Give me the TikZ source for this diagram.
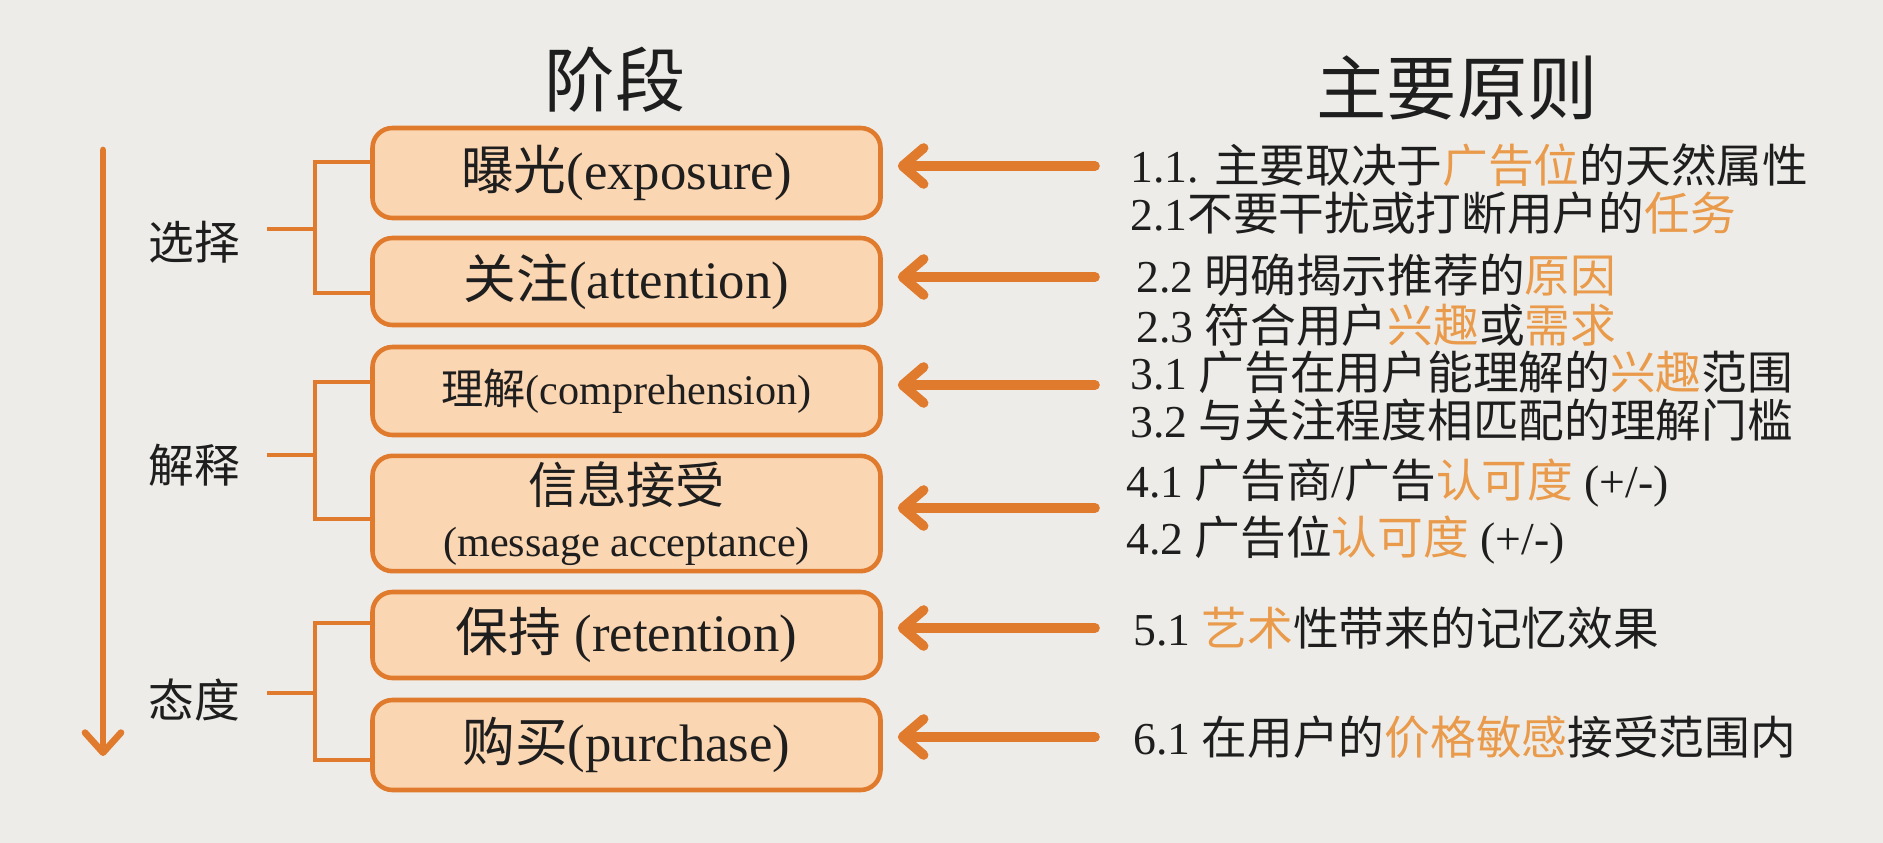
\documentclass[tikz,border=0pt]{standalone}
\usepackage{fontspec}
\setmainfont{Liberation Serif}
\newfontfamily\cjk{Noto Sans CJK SC}
\usetikzlibrary{arrows.meta}

\definecolor{paper}{HTML}{EDECE8}
\definecolor{edge}{HTML}{E07A2C}
\definecolor{boxfill}{HTML}{FBD6B2}
\definecolor{hilite}{HTML}{E99A4A}
\definecolor{ink}{HTML}{1E1E1E}

\newcommand{\zh}[1]{{\cjk #1}}
\newcommand{\hl}[1]{{\cjk\color{hilite}#1}}

\begin{document}
\begin{tikzpicture}[
stagebox/.style={
draw=edge,
fill=boxfill,
line width=2.6pt,
rounded corners=0.4cm,
align=center,
text=ink,
minimum width=10.16cm
},
bigtext/.style={font=\fontsize{30}{34}\selectfont},
smalltext/.style={font=\fontsize{24}{30}\selectfont},
group/.style={text=ink, font=\cjk\fontsize{26}{30}\selectfont},
rule/.style={anchor=west, inner sep=0pt, text=ink, font=\fontsize{26}{30}\selectfont},
title/.style={text=ink, font=\cjk\fontsize{40}{44}\selectfont},
bracket/.style={draw=edge, line width=2.6pt},
pointer/.style={draw=edge, line width=5.5pt, line cap=round,
  -{Straight Barb[length=0.42cm, width=0.72cm, line cap=round, line join=round]}}
]

\fill[paper] (0,0) rectangle (37.66,-16.86);
\useasboundingbox (0,0) rectangle (37.66,-16.86);

% titles
\node[title] (T1) at (12.3,-1.6) {阶段};
\node[title] (T2) at (29.14,-1.76) {主要原则};

% stages
\node[stagebox, bigtext, minimum height=1.80cm] (E) at (12.53,-3.46)
{\zh{曝光}(exposure)};
\node[stagebox, bigtext, minimum height=1.74cm] (At) at (12.53,-5.63)
{\zh{关注}(attention)};
\node[stagebox, smalltext, minimum height=1.76cm] (C) at (12.53,-7.82)
{\zh{理解}(comprehension)};
\node[stagebox, smalltext, minimum height=2.14cm] (Ma) at (12.53,-10.27)
{\zh{\fontsize{28}{32}\selectfont 信息接受}\\(message acceptance)};
\node[stagebox, bigtext, minimum height=1.72cm] (R) at (12.53,-12.70)
{\zh{保持} (retention)};
\node[stagebox, bigtext, minimum height=1.80cm] (Pu) at (12.53,-14.90)
{\zh{购买}(purchase)};

% groups
\node[group] (Sel) at (3.88,-4.84) {选择};
\node[group] (Int) at (3.88,-9.30) {解释};
\node[group] (Att) at (3.88,-14.00) {态度};

\coordinate (j1) at (6.3,-4.58);
\coordinate (j2) at (6.3,-9.10);
\coordinate (j3) at (6.3,-13.86);

\draw[bracket] ([yshift=0.22cm]E.west) -| (j1) |- ([yshift=-0.23cm]At.west);
\draw[bracket] ([yshift=0.18cm]C.west) -| (j2) |- ([yshift=-0.11cm]Ma.west);
\draw[bracket] ([yshift=0.24cm]R.west) -| (j3) |- ([yshift=-0.30cm]Pu.west);
\draw[bracket, shorten <=0.42cm] (Sel.east |- j1) -- (j1);
\draw[bracket, shorten <=0.42cm] (Int.east |- j2) -- (j2);
\draw[bracket, shorten <=0.42cm] (Att.east |- j3) -- (j3);

% time axis
\coordinate (top) at (2.06,-3.0);
\coordinate (bot) at (2.06,-15.12);
\draw[draw=edge, line width=3.8pt, line cap=round,
  -{Straight Barb[length=0.4cm, width=0.72cm, line cap=round, line join=round]}] (top) -- (bot);

% principles
\node[rule] (P11) at (22.6,-3.30) {1.1. \zh{主要取决于}\hl{广告位}\zh{的天然属性}};
\node[rule] (P21) at (22.6,-4.26) {2.1\zh{不要干扰或打断用户的}\hl{任务}};
\node[rule] (P22) at (22.72,-5.50) {2.2 \zh{明确揭示推荐的}\hl{原因}};
\node[rule] (P23) at (22.72,-6.50) {2.3 \zh{符合用户}\hl{兴趣}\zh{或}\hl{需求}};
\node[rule] (P31) at (22.6,-7.44) {3.1 \zh{广告在用户能理解的}\hl{兴趣}\zh{范围}};
\node[rule] (P32) at (22.6,-8.40) {3.2 \zh{与关注程度相匹配的理解门槛}};
\node[rule] (P41) at (22.52,-9.66) {4.1 \zh{广告商}/\zh{广告}\hl{认可度} (+/-)};
\node[rule] (P42) at (22.52,-10.80) {4.2 \zh{广告位}\hl{认可度} (+/-)};
\node[rule] (P51) at (22.66,-12.56) {5.1 \hl{艺术}\zh{性带来的记忆效果}};
\node[rule] (P61) at (22.66,-14.74) {6.1 \zh{在用户的}\hl{价格敏感}\zh{接受范围内}};

% arrows
\coordinate (a1) at (21.9,-3.32);
\coordinate (a2) at (21.9,-5.54);
\coordinate (a3) at (21.9,-7.70);
\coordinate (a4) at (21.9,-10.16);
\coordinate (a5) at (21.9,-12.56);
\coordinate (a6) at (21.9,-14.74);

\draw[pointer, shorten >=0.3cm] (a1) -- (a1 -| E.east);
\draw[pointer, shorten >=0.3cm] (a2) -- (a2 -| At.east);
\draw[pointer, shorten >=0.3cm] (a3) -- (a3 -| C.east);
\draw[pointer, shorten >=0.3cm] (a4) -- (a4 -| Ma.east);
\draw[pointer, shorten >=0.3cm] (a5) -- (a5 -| R.east);
\draw[pointer, shorten >=0.3cm] (a6) -- (a6 -| Pu.east);

\end{tikzpicture}
\end{document}
